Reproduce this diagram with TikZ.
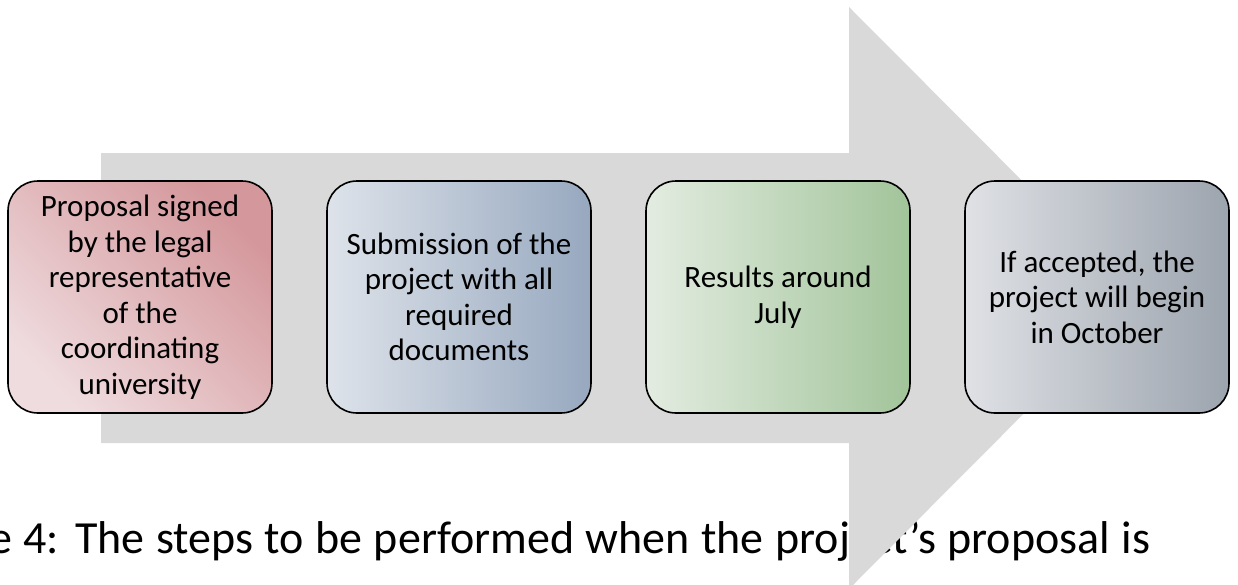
\documentclass[tikz,border=0pt]{standalone}
\usepackage{fontspec}
\setmainfont{Carlito}
\definecolor{arrowgrey}{HTML}{D9D9D9}
\definecolor{redlight}{HTML}{EFDCDF}
\definecolor{reddark}{HTML}{D4979B}
\definecolor{bluelight}{HTML}{DEE3EA}
\definecolor{bluedark}{HTML}{97A8BF}
\definecolor{greenlight}{HTML}{E3ECE1}
\definecolor{greendark}{HTML}{A2C49A}
\definecolor{greylight}{HTML}{DFE1E5}
\definecolor{greydark}{HTML}{9CA4AE}
\begin{document}
\begin{tikzpicture}[x=1pt, y=-1pt,
	stepbox/.style={draw=black, line width=1.6pt, rounded corners=30pt,
		minimum width=264pt, minimum height=232pt, align=center,
		font=\fontsize{31}{35.5}\selectfont, inner sep=0pt},
	caption/.style={anchor=base west, inner sep=0pt,
		font=\fontsize{46}{54}\selectfont}]
	
	\useasboundingbox (0,0) rectangle (1238,584);
	\clip (0,0) rectangle (1238,584);
	
	\pgfmathtruncatemacro{\bodyleft}{101}
\pgfmathtruncatemacro{\headx}{849}

% The caption, under the arrow
\node[caption] (caption) at (-11,553)
	{\makebox[1161pt][s]{e 4: The steps to be performed when the project’s proposal is}};

% The arrow
\fill[arrowgrey]
	      (\bodyleft, 153) --
	    ++(\headx-\bodyleft, 0) --
	    ++(0, -146) --
	    ++(290, 291) --
	    ++(-290, 291) --
	    ++(0, -146) --
	    ++(\bodyleft-\headx, 0) --
	    cycle;

	% The steps
	\node[stepbox, left color=redlight, right color=reddark, shading angle=135]
		(signed) at (140,297)
		{Proposal signed\\by the legal\\representative\\of the\\coordinating\\university};
	\node[stepbox, left color=bluelight, right color=bluedark]
		(submission) at (459,297)
		{Submission of the\\project with all\\required\\documents};
	\node[stepbox, left color=greenlight, right color=greendark]
		(results) at (778,297)
		{Results around\\July};
	\node[stepbox, left color=greylight, right color=greydark]
		(begin) at (1097,297)
		{If accepted, the\\project will begin\\in October};
\end{tikzpicture}
\end{document}
